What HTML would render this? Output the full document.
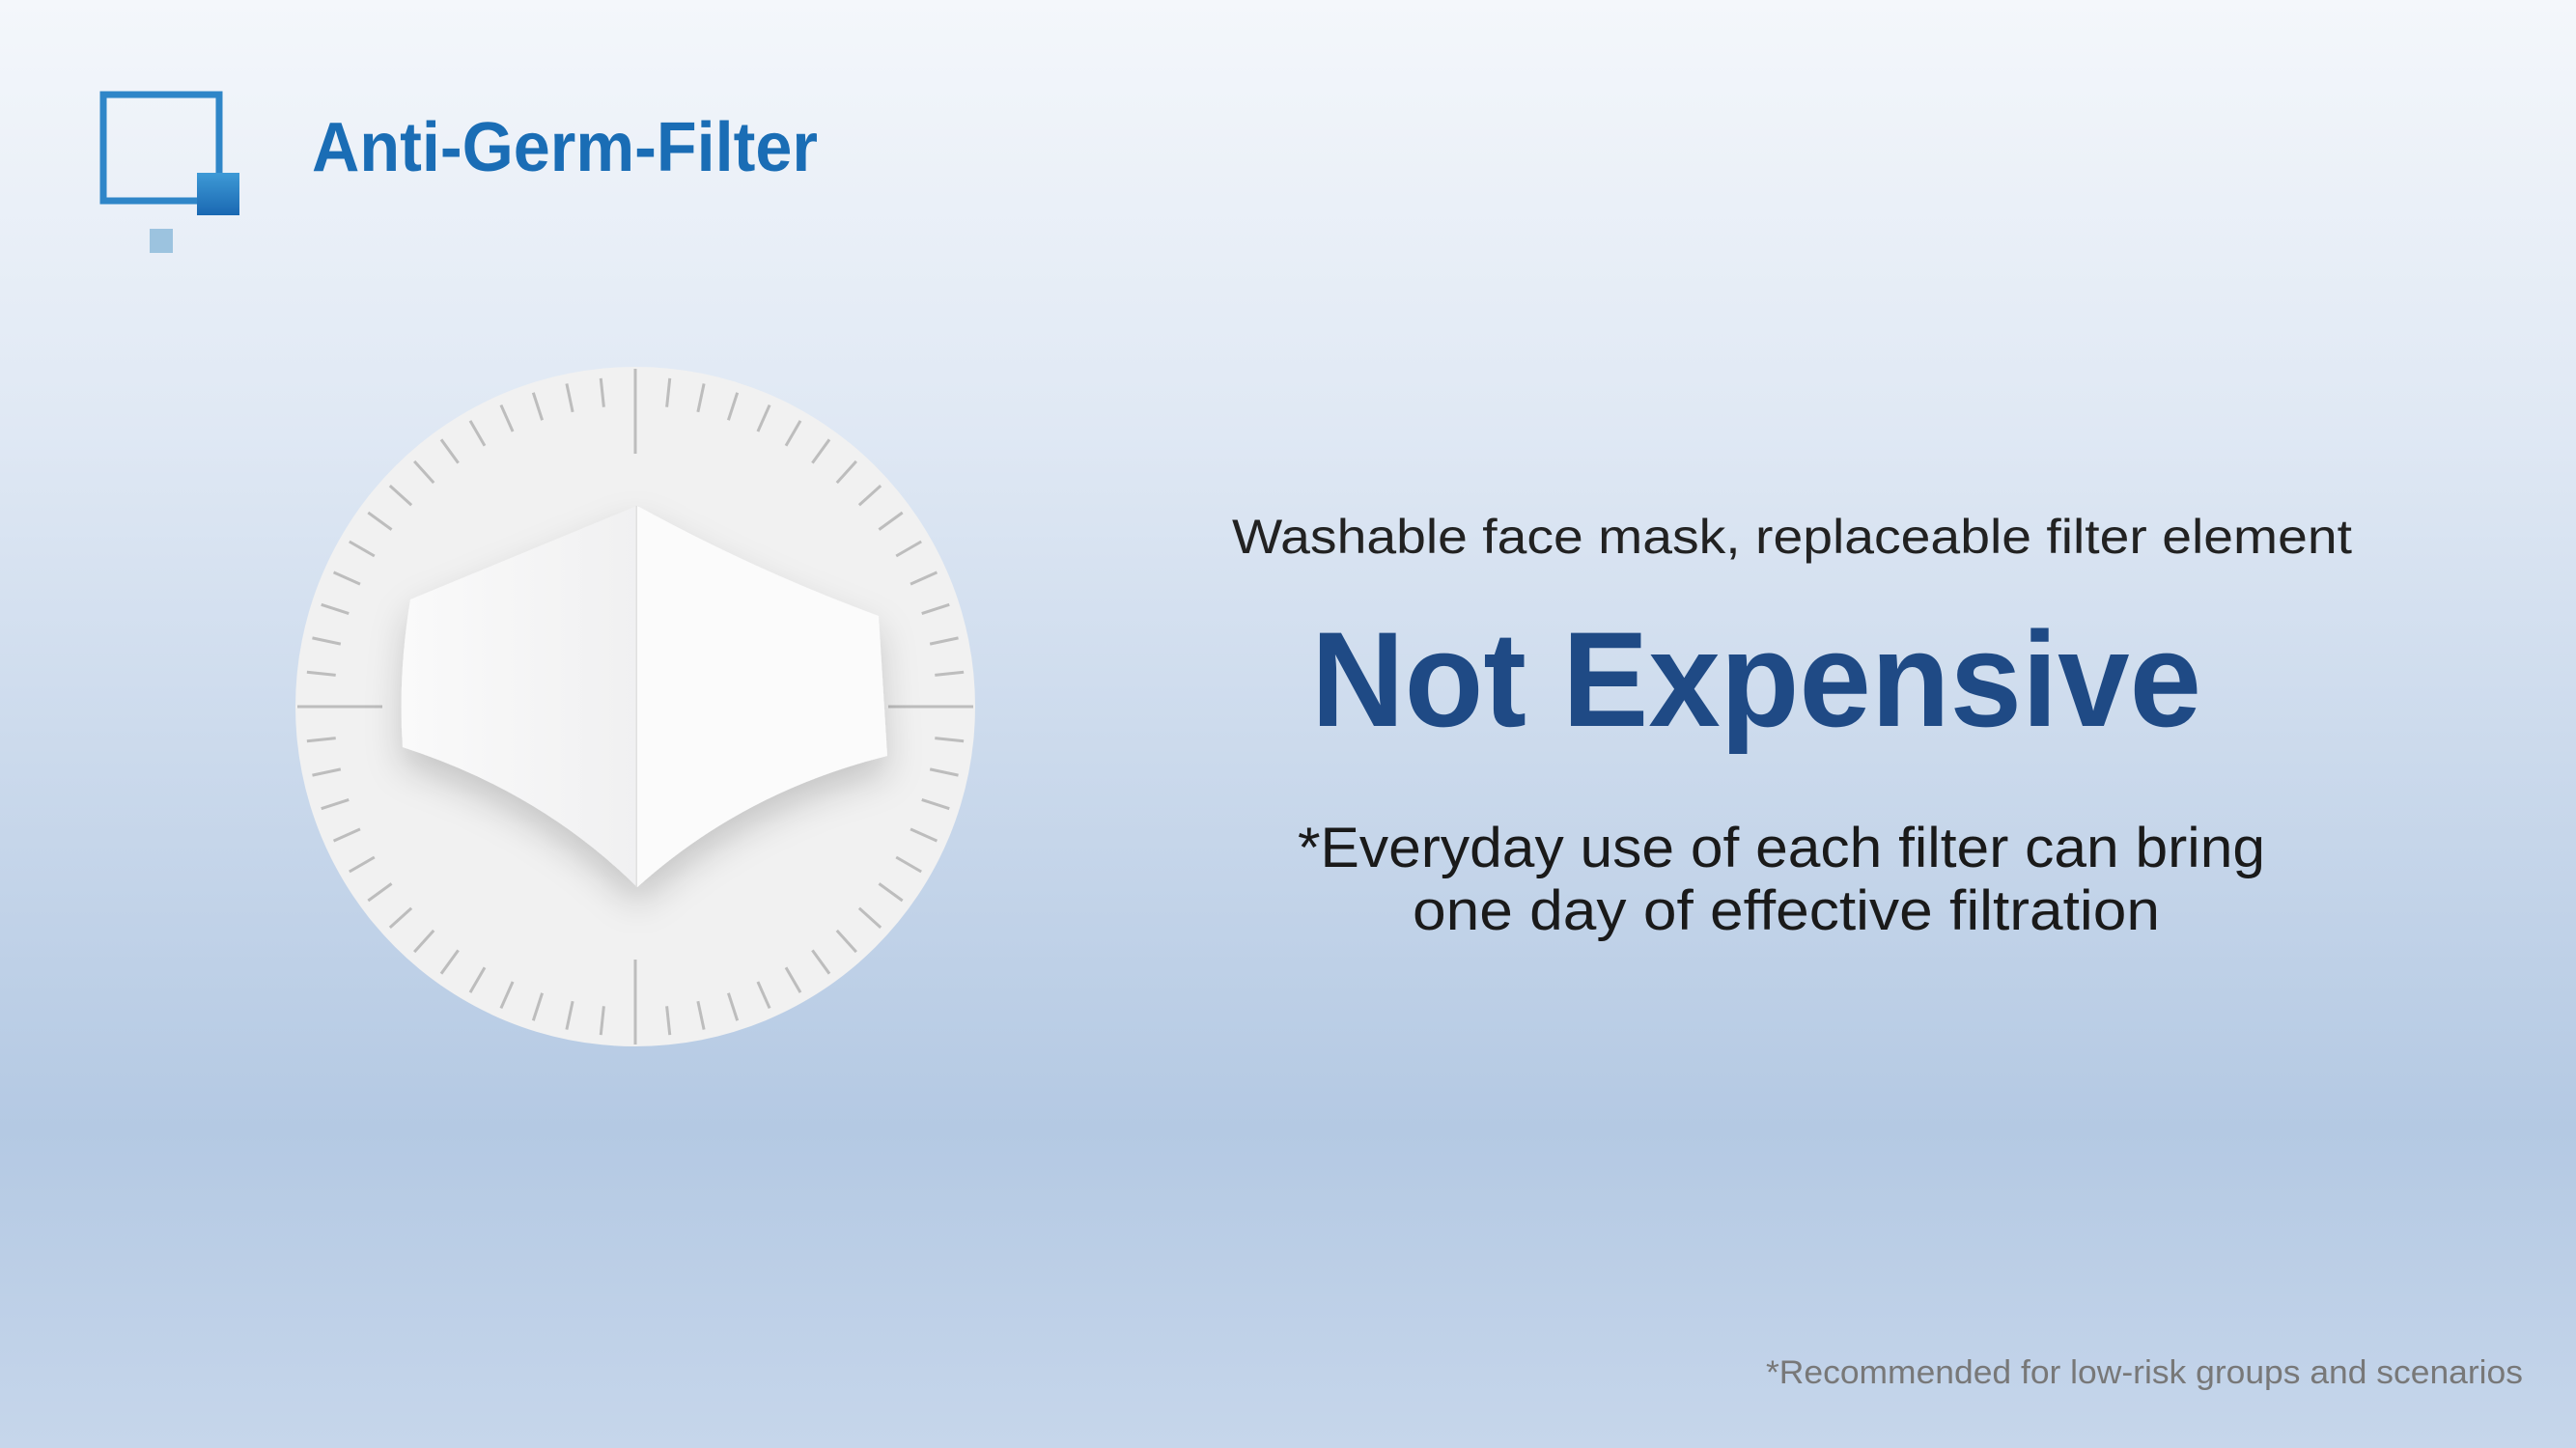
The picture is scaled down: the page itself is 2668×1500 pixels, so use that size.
<!DOCTYPE html>
<html><head><meta charset="utf-8"><style>
html,body{margin:0;padding:0;width:2668px;height:1500px;overflow:hidden}
svg{display:block}
</style></head><body>
<svg id="s" width="2668" height="1500" viewBox="0 0 2668 1500">
<defs>
<linearGradient id="bg" x1="0" y1="0" x2="0" y2="1">
<stop offset="0" stop-color="#f4f7fb"/>
<stop offset="0.3" stop-color="#dfe8f4"/>
<stop offset="0.78" stop-color="#b4c9e3"/>
<stop offset="1" stop-color="#c6d6eb"/>
</linearGradient>
<linearGradient id="sq" x1="0" y1="0" x2="0" y2="1"><stop offset="0" stop-color="#3e9ad6"/><stop offset="1" stop-color="#1a68b2"/></linearGradient>
<linearGradient id="ml" x1="0" y1="0" x2="1" y2="0"><stop offset="0" stop-color="#fafafa"/><stop offset="1" stop-color="#e6e6e8"/></linearGradient>
<filter id="sh" x="-20%" y="-20%" width="140%" height="150%"><feDropShadow dx="0" dy="18" stdDeviation="18" flood-color="#000" flood-opacity="0.18"/></filter>
</defs>
<rect width="2668" height="1500" fill="url(#bg)"/>
<g>
<rect x="107" y="98" width="120" height="110" fill="none" stroke="#2f86c8" stroke-width="7"/>
<rect x="204" y="179" width="44" height="44" fill="url(#sq)"/>
<rect x="155" y="237" width="24" height="25" fill="#9cc3df"/>
</g>
<text x="323" y="177" font-family="Liberation Sans, sans-serif" font-weight="bold" font-size="72" fill="#1a6db5" textLength="524" lengthAdjust="spacingAndGlyphs">Anti-Germ-Filter</text>
<g>
<circle cx="658" cy="732" r="352" fill="#f1f1f1"/>
<g id="ticks" stroke="#bdbdbd" stroke-width="3"></g>
<g filter="url(#sh)">
<path d="M660 524 L425 621 Q412 700 417 774 Q560 820 660 919 Q770 820 919 783 L910 638 Q780 590 660 524 Z" fill="url(#ml)"/>
<path d="M660 524 L660 919" stroke="#e0e0e0" stroke-width="3"/>
<path d="M660 524 Q780 590 910 638 L919 783 Q770 820 660 919 Z" fill="#fbfbfb"/>
</g>
</g>
<text x="1276" y="573" font-family="Liberation Sans, sans-serif" font-size="50" fill="#222" textLength="1160" lengthAdjust="spacingAndGlyphs">Washable face mask, replaceable filter element</text>
<text x="1358" y="752" font-family="Liberation Sans, sans-serif" font-weight="bold" font-size="140" fill="#1f4a85" textLength="922" lengthAdjust="spacingAndGlyphs">Not Expensive</text>
<text x="1344" y="898" font-family="Liberation Sans, sans-serif" font-size="58" fill="#1a1a1a" textLength="1002" lengthAdjust="spacingAndGlyphs">*Everyday use of each filter can bring</text>
<text x="1463" y="963" font-family="Liberation Sans, sans-serif" font-size="58" fill="#1a1a1a" textLength="774" lengthAdjust="spacingAndGlyphs">one day of effective filtration</text>
<text x="1829" y="1433" font-family="Liberation Sans, sans-serif" font-size="34" fill="#787878" textLength="784" lengthAdjust="spacingAndGlyphs">*Recommended for low-risk groups and scenarios</text>
</svg>
<script>
const tickCount = 60;
const g = document.getElementById('ticks');
for (let i = 0; i < tickCount; i++) {
  const a = i * 2 * Math.PI / tickCount;
  const major = i % 15 === 0;
  const r1 = major ? 262 : 312, r2 = major ? 350 : 342;
  const l = document.createElementNS('http://www.w3.org/2000/svg', 'line');
  l.setAttribute('x1', 658 + r1 * Math.sin(a));
  l.setAttribute('y1', 732 - r1 * Math.cos(a));
  l.setAttribute('x2', 658 + r2 * Math.sin(a));
  l.setAttribute('y2', 732 - r2 * Math.cos(a));
  
  
  g.appendChild(l);
}
</script>
</body></html>
